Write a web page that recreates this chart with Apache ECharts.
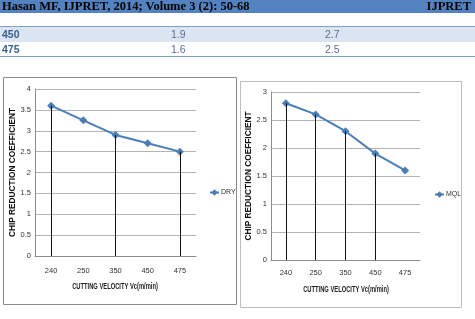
<!DOCTYPE html>
<html>
<head>
<meta charset="utf-8">
<script src="https://cdn.jsdelivr.net/npm/echarts@6/dist/echarts.min.js"></script>
<style>
  html, body { margin: 0; padding: 0; background: #fff; width: 475px; height: 319px; overflow: hidden; }
  #chart { position: absolute; left: 0; top: 0; width: 475px; height: 319px; }
  .hdr { position: absolute; left: 0; top: 0; width: 475px; height: 13px; background: #5282c0; }
  .hdr span { position: absolute; top: -1px; font-family: "Liberation Serif", serif; font-weight: bold; font-size: 12.5px; color: #000; white-space: nowrap; }
  .row { position: absolute; left: 0; width: 475px; height: 15px; font-family: "Liberation Sans", sans-serif; font-size: 10.5px; }
  .row span { position: absolute; top: 1px; white-space: nowrap; }
  .row .k { left: 2px; font-weight: bold; color: #365f91; }
  .row .v { color: #5b6f8f; }
</style>
</head>
<body>
<div id="chart"></div>
<div class="hdr"><span id="hdrL" style="left:2px"></span><span id="hdrR" style="right:4px"></span></div>
<div class="row" id="r1" style="top:26px;height:15px;background:#dbe5f1;border-top:1.5px solid #7f9fcf;"></div>
<div class="row" id="r2" style="top:42px;height:14px;border-bottom:1.5px solid #7f9fcf;"></div>
<script>
// ---- data ----
var headerLeft = "Hasan MF, IJPRET, 2014; Volume 3 (2): 50-68";
var headerRight = "IJPRET";
var tableRows = [["450", "1.9", "2.7"], ["475", "1.6", "2.5"]];
var categories = ["240", "250", "350", "450", "475"];
var dryValues = [3.6, 3.25, 2.9, 2.7, 2.5];
var mqlValues = [2.8, 2.6, 2.3, 1.9, 1.6];
var dryDropCats = ["240", "350", "475"];
var mqlDropCats = ["240", "250", "350", "450"];
var yTitle = "CHIP REDUCTION COEFFICIENT";
var xTitle = "CUTTING VELOCITY Vc(m/min)";

document.getElementById("hdrL").textContent = headerLeft;
document.getElementById("hdrR").textContent = headerRight;
[["r1", 0], ["r2", 1]].forEach(function (p) {
  var el = document.getElementById(p[0]);
  var r = tableRows[p[1]];
  el.innerHTML = '<span class="k"></span><span class="v" style="left:171px"></span><span class="v" style="left:325px"></span>';
  el.children[0].textContent = r[0];
  el.children[1].textContent = r[1];
  el.children[2].textContent = r[2];
});

function drops(cats, vals, list) {
  return list.map(function (c) {
    var v = vals[cats.indexOf(c)];
    return [{ coord: [c, v] }, { coord: [c, 0] }];
  });
}

var sans = '"Liberation Sans", Arial, sans-serif';
var blue = "#4a7ebb";

function xAxis(idx, margin) {
  return {
    type: "category", gridIndex: idx, data: categories, boundaryGap: true,
    axisLine: { lineStyle: { color: "#8c8c8c", width: 1 } },
    axisTick: { show: false },
    axisLabel: { fontFamily: sans, fontSize: 7.5, color: "#333", margin: margin }
  };
}
function yAxis(idx, max, gap) {
  return {
    type: "value", gridIndex: idx, min: 0, max: max, interval: 0.5,
    axisLine: { show: true, lineStyle: { color: "#8c8c8c", width: 1 } },
    axisTick: { show: false },
    splitLine: { lineStyle: { color: "#b4b4b4", width: 1 } },
    axisLabel: { fontFamily: sans, fontSize: 7.5, color: "#333", margin: 4 },
    name: yTitle, nameLocation: "middle", nameGap: gap, nameRotate: 90,
    nameTextStyle: { fontFamily: sans, fontSize: 8.3, fontWeight: "bold", color: "#111" }
  };
}
function series(name, idx, vals, dropList) {
  return {
    name: name, type: "line", xAxisIndex: idx, yAxisIndex: idx, data: vals,
    symbol: "diamond", symbolSize: 8,
    lineStyle: { color: blue, width: 2 }, itemStyle: { color: blue },
    z: 3,
    markLine: {
      silent: true, symbol: "none", label: { show: false },
      lineStyle: { color: "#111", width: 1, type: "solid" },
      animation: false,
      data: drops(categories, vals, dropList)
    }
  };
}
function xTitleText(cx, cy) {
  return {
    type: "text", x: cx, y: cy, scaleX: 0.68, scaleY: 1, z: 10,
    style: { text: xTitle, fontFamily: sans, fontSize: 8.5, fontWeight: "bold", fill: "#222",
             align: "center", verticalAlign: "middle" }
  };
}

var chart = echarts.init(document.getElementById("chart"), null, { renderer: "canvas" });
chart.setOption({
  animation: false,
  backgroundColor: "transparent",
  graphic: [
    { type: "rect", shape: { x: 3.5, y: 77.5, width: 233, height: 227 }, style: { fill: "none", stroke: "#8a8a8a", lineWidth: 1 }, z: -1 },
    { type: "rect", shape: { x: 240.5, y: 81.5, width: 221, height: 226 }, style: { fill: "none", stroke: "#bdbdbd", lineWidth: 1 }, z: -1 },
    xTitleText(115, 287),
    xTitleText(346, 290)
  ],
  grid: [
    { left: 35, top: 89, width: 161, height: 167 },
    { left: 271, top: 92, width: 149, height: 168 }
  ],
  legend: [
    { data: ["DRY"], left: 204, top: 184, itemWidth: 9, itemHeight: 8, itemGap: 2,
      textStyle: { fontFamily: sans, fontSize: 7, color: "#333", padding: [0, 0, 0, -3] } },
    { data: ["MQL"], left: 429, top: 186, itemWidth: 9, itemHeight: 8, itemGap: 2,
      textStyle: { fontFamily: sans, fontSize: 7, color: "#333", padding: [0, 0, 0, -3] } }
  ],
  xAxis: [xAxis(0, 11), xAxis(1, 9)],
  yAxis: [yAxis(0, 4, 12), yAxis(1, 3, 9)],
  series: [
    series("DRY", 0, dryValues, dryDropCats),
    series("MQL", 1, mqlValues, mqlDropCats)
  ]
});
</script>
</body>
</html>
